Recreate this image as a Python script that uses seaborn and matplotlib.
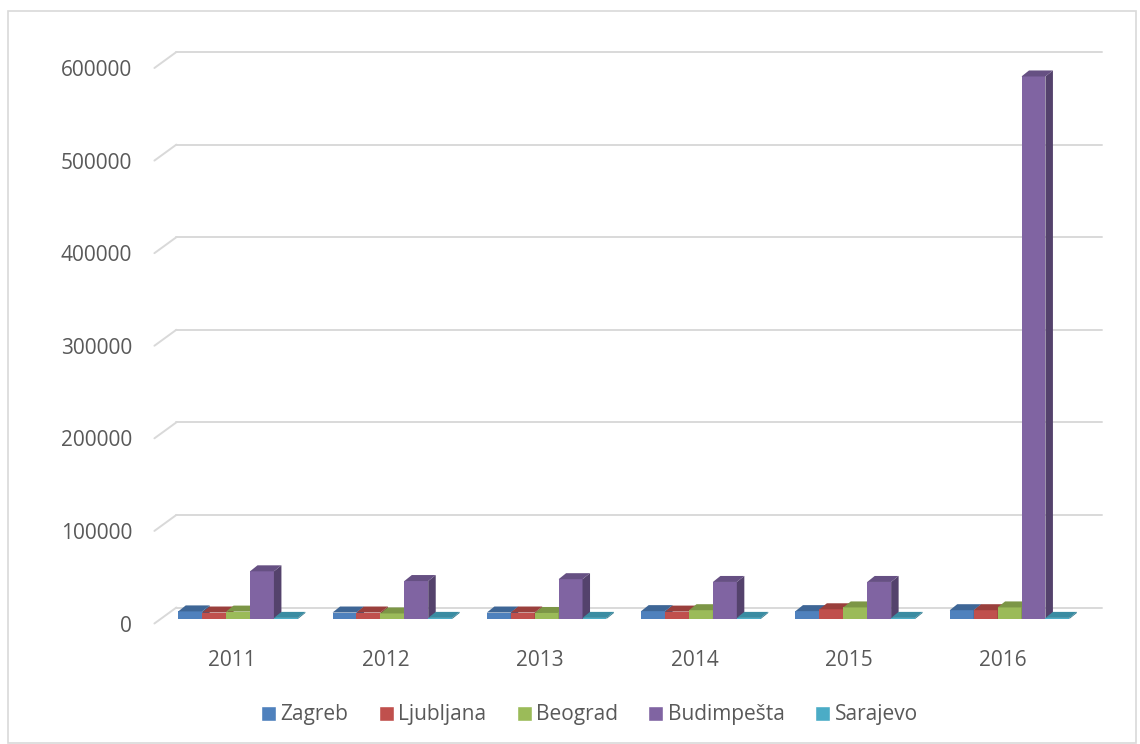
import pandas as pd
import numpy as np
import matplotlib
matplotlib.use("Agg")
import matplotlib.pyplot as plt
from matplotlib.patches import Polygon, Rectangle
import seaborn as sns

# data
years = ["2011", "2012", "2013", "2014", "2015", "2016"]
cities = ["Zagreb", "Ljubljana", "Beograd", "Budimpešta", "Sarajevo"]
zagreb = [8200, 7000, 7000, 8500, 8500, 9500]
ljubljana = [7000, 7000, 7000, 8000, 10500, 9500]
beograd = [8000, 6000, 6500, 9500, 12500, 12500]
budimpesta = [51500, 41000, 43000, 40000, 40000, 586000]
sarajevo = [1200, 1200, 1200, 1200, 1200, 1200]
yticks = [0, 100000, 200000, 300000, 400000, 500000, 600000]

front_colors = ["#4F81BD", "#C0504D", "#9BBB59", "#8064A2", "#4BACC6"]
top_colors = ["#3E6696", "#9A3F3C", "#7C9646", "#665083", "#3A8CA2"]
side_colors = ["#385A85", "#883835", "#6D843D", "#54426C", "#32798D"]

df = pd.DataFrame({
    "year": years * 5,
    "city": np.repeat(cities, len(years)),
    "value": zagreb + ljubljana + beograd + budimpesta + sarajevo,
})

# style
sns.set_style("white")
plt.rcParams["font.family"] = ["Open Sans", "DejaVu Sans"]
TXT = "#595959"
GRID = "#D9D9D9"
FS = 15

W, H = 1140, 744
fig = plt.figure(figsize=(W / 100, H / 100), dpi=100)

# front plane (ticks + grid), bar plane slightly deeper
fx0, fy0, cat_w, plot_h = 154.4, 120.5, 154.3, 555.5
front = fig.add_axes([fx0 / W, fy0 / H, 6 * cat_w / W, plot_h / H])
bars_ax = fig.add_axes([(fx0 + 6.5) / W, (fy0 + 4.5) / H, 6 * cat_w / W, plot_h / H])

for a in (front, bars_ax):
    a.set_xlim(-0.5, 5.5)
    a.set_ylim(0, 600000)
    a.set_facecolor("none")
    for s in a.spines.values():
        s.set_visible(False)

# back wall gridlines with left diagonals
bdx = 22 / cat_w
bdy = 16 * 600000 / plot_h
for t in yticks:
    front.plot([-0.5 + bdx, 5.5 + bdx], [t + bdy, t + bdy], color=GRID, lw=1.4,
               clip_on=False, zorder=1)
    front.plot([-0.5, -0.5 + bdx], [t, t + bdy], color=GRID, lw=1.4,
               clip_on=False, zorder=1)

front.set_xticks(range(len(years)))
front.set_xticklabels(years)
front.set_yticks(yticks)
front.set_yticklabels([str(t) for t in yticks])
front.tick_params(axis="both", length=0, labelsize=FS, labelcolor=TXT)
front.tick_params(axis="x", pad=19)
front.tick_params(axis="y", pad=16)
front.set_xlabel("")
front.set_ylabel("")

# bars
sns.barplot(data=df, x="year", y="value", hue="city", hue_order=cities,
            palette=front_colors, saturation=1, width=0.775, errorbar=None,
            ax=bars_ax)
bars_ax.set_xlim(-0.5, 5.5)
bars_ax.set_ylim(0, 600000)
bars_ax.set_xticks([])
bars_ax.set_yticks([])
bars_ax.set_xlabel("")
bars_ax.set_ylabel("")

ddx = 7.5 / cat_w
ddy = 6 * 600000 / plot_h
for ci, cont in enumerate(bars_ax.containers):
    for bar in cont:
        x0, w, h = bar.get_x(), bar.get_width(), bar.get_height()
        z = 3 + x0 * 0.1
        bar.set_zorder(z)
        bar.set_linewidth(0)
        top = Polygon([(x0, h), (x0 + w, h), (x0 + w + ddx, h + ddy), (x0 + ddx, h + ddy)],
                      closed=True, fc=top_colors[ci], ec="none", zorder=z, clip_on=False)
        side = Polygon([(x0 + w, 0), (x0 + w + ddx, ddy), (x0 + w + ddx, h + ddy), (x0 + w, h)],
                       closed=True, fc=side_colors[ci], ec="none", zorder=z, clip_on=False)
        bars_ax.add_patch(side)
        bars_ax.add_patch(top)
        bar.set_clip_on(False)

handles, labels = bars_ax.get_legend_handles_labels()
bars_ax.legend(handles, labels, loc="center", bbox_to_anchor=(0.517, 0.039),
               bbox_transform=fig.transFigure, ncol=5, frameon=False,
               fontsize=FS, labelcolor=TXT, handlelength=0.72, handleheight=0.72,
               handletextpad=0.22, columnspacing=1.45)

# chart area border
fig.patches.append(Rectangle((8 / W, 1 / H), 1128 / W, 732 / H, transform=fig.transFigure,
                             fill=False, ec=GRID, lw=1.2))

fig.savefig("out.png", dpi=100, facecolor="white")
